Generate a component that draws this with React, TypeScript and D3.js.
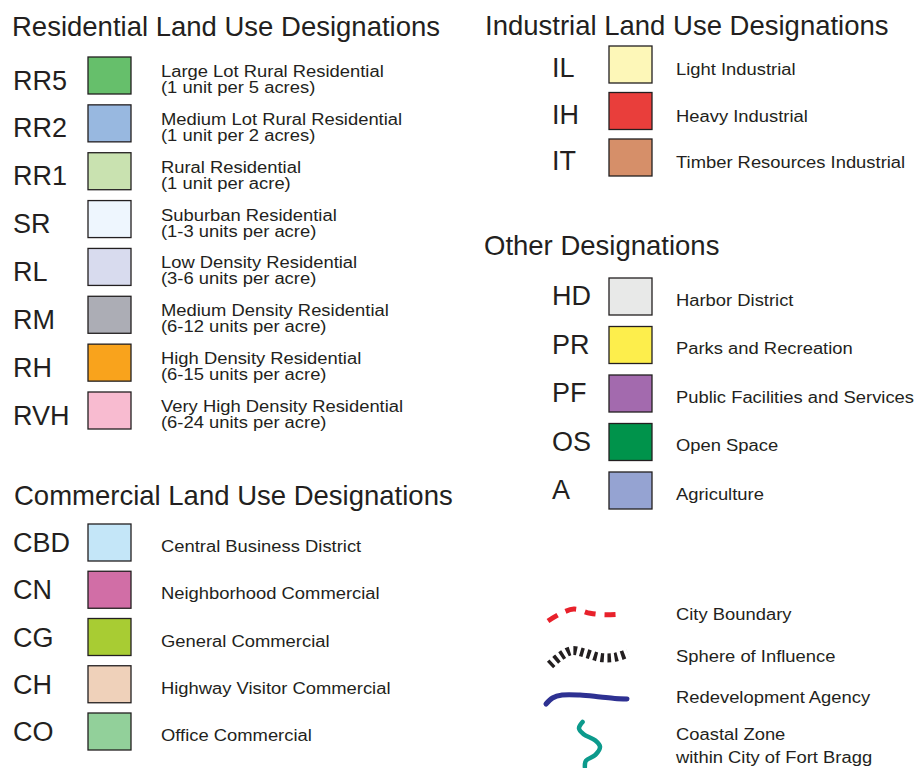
import React from "react";
import * as d3 from "d3";

// 주거 지역
const resCodes = ["RR5", "RR2", "RR1", "SR", "RL", "RM", "RH", "RVH"];
const resLabels = [
    "Large Lot Rural Residential",
    "Medium Lot Rural Residential",
    "Rural Residential",
    "Suburban Residential",
    "Low Density Residential",
    "Medium Density Residential",
    "High Density Residential",
    "Very High Density Residential",
];
const resNotes = [
    "(1 unit per 5 acres)",
    "(1 unit per 2 acres)",
    "(1 unit per acre)",
    "(1-3 units per acre)",
    "(3-6 units per acre)",
    "(6-12 units per acre)",
    "(6-15 units per acre)",
    "(6-24 units per acre)",
];
const resColors = ["#66bf6b", "#98b8e0", "#c9e2b0", "#eef6fe", "#d8dbee", "#acadb5", "#f9a31c", "#f8bbd0"];

// 상업 지역
const comCodes = ["CBD", "CN", "CG", "CH", "CO"];
const comLabels = [
    "Central Business District",
    "Neighborhood Commercial",
    "General Commercial",
    "Highway Visitor Commercial",
    "Office Commercial",
];
const comColors = ["#c4e6f8", "#d16ea6", "#a8cc33", "#efd1ba", "#92d09a"];

// 공업 지역
const indCodes = ["IL", "IH", "IT"];
const indLabels = ["Light Industrial", "Heavy Industrial", "Timber Resources Industrial"];
const indColors = ["#fdf7b8", "#e93e3b", "#d68f69"];

// 기타
const othCodes = ["HD", "PR", "PF", "OS", "A"];
const othLabels = [
    "Harbor District",
    "Parks and Recreation",
    "Public Facilities and Services",
    "Open Space",
    "Agriculture",
];
const othColors = ["#e8e9e8", "#fdee4c", "#a36aae", "#00934b", "#95a3d2"];

const titles = [
    "Residential Land Use Designations",
    "Commercial Land Use Designations",
    "Industrial Land Use Designations",
    "Other Designations",
];

// 선 기호
const lineLabels = [["City Boundary"], ["Sphere of Influence"], ["Redevelopment Agency"], ["Coastal Zone", "within City of Fort Bragg"]];
const lineShapes: [number, number][][] = [
    [[0, 1], [0.16, 0.5], [0.35, 0.15], [0.57, 0.45], [0.77, 0.55], [1, 0.5]],
    [[0, 1], [0.13, 0.5], [0.28, 0.15], [0.45, 0.3], [0.64, 0.55], [0.83, 0.55], [1, 0.3]],
    [[0, 1], [0.08, 0.4], [0.2, 0.1], [0.42, 0.1], [0.67, 0.3], [0.85, 0.45], [1, 0.5]],
    [[0.17, 0], [0, 0.14], [0.22, 0.27], [0.78, 0.41], [1, 0.55], [0.78, 0.73], [0.33, 0.86], [0.28, 1]],
];
const lineColors = ["#e8212b", "#231f20", "#2e3192", "#0c9a8c"];

const FONT = "'Liberation Sans', Arial, Helvetica, sans-serif";
const INK = "#231f20";
const SW = 43;
const SH = 37;
const LABEL_SIZE = 17.3;
const LABEL_SX = 1.063; // 원본 글꼴이 약간 넓음

const Label: React.FC<{ x: number; y: number; lines: string[]; gap: number }> = ({ x, y, lines, gap }) => (
    <text transform={`translate(${x},${y}) scale(${LABEL_SX},1)`} fontSize={LABEL_SIZE} fill={INK}>
        {lines.map((l, j) => (
            <tspan key={j} x={0} dy={j === 0 ? 0 : gap}>{l}</tspan>
        ))}
    </text>
);

interface SectionProps {
    title: string;
    titleX: number;
    titleY: number;
    codes: string[];
    labels: string[];
    notes?: string[];
    colors: string[];
    codeX: number;
    swatchX: number;
    labelX: number;
    rowRange: [number, number];
    codeDy: number;
    labelDy: number;
}

const Section: React.FC<SectionProps> = (p) => {
    const y = d3.scaleLinear().domain([0, p.codes.length - 1]).range(p.rowRange);
    return (
        <g>
            <text x={p.titleX} y={p.titleY} fontSize={27.5} fill={INK}>{p.title}</text>
            {p.codes.map((c, i) => (
                <g key={c}>
                    <text x={p.codeX} y={y(i) + p.codeDy} fontSize={27} fill={INK}>{c}</text>
                    <rect x={p.swatchX} y={y(i)} width={SW} height={SH} fill={p.colors[i]} stroke={INK} strokeWidth={1.3} />
                    {p.notes ? (
                        <Label x={p.labelX} y={y(i) + 20} lines={[p.labels[i], p.notes[i]]} gap={16} />
                    ) : (
                        <Label x={p.labelX} y={y(i) + p.labelDy} lines={[p.labels[i]]} gap={0} />
                    )}
                </g>
            ))}
        </g>
    );
};

const LineLegend: React.FC = () => {
    const boxes = [
        { x: [548, 622], y: [607, 621], w: 5, dash: "11 9", cap: "butt" },
        { x: [550, 628], y: [648, 665], w: 9, dash: "3.5 3.5", cap: "butt" },
        { x: [546, 627], y: [694, 704], w: 5, dash: "", cap: "round" },
        { x: [579, 600], y: [722, 767], w: 4.5, dash: "", cap: "round" },
    ];
    const rowY = d3.scaleLinear().domain([0, 2]).range([620, 703]);
    return (
        <g>
            {lineShapes.map((pts, i) => {
                const b = boxes[i];
                const sx = d3.scaleLinear().domain([0, 1]).range(b.x);
                const sy = d3.scaleLinear().domain([0, 1]).range(b.y);
                const path = d3
                    .line<[number, number]>()
                    .x((d) => sx(d[0]))
                    .y((d) => sy(d[1]))
                    .curve(d3.curveCatmullRom)(pts);
                return (
                    <path
                        key={i}
                        d={path || ""}
                        fill="none"
                        stroke={lineColors[i]}
                        strokeWidth={b.w}
                        strokeDasharray={b.dash || undefined}
                        strokeLinecap={b.cap as any}
                    />
                );
            })}
            {lineLabels.map((ls, i) => (
                <Label key={i} x={676} y={i < 3 ? rowY(i) : 740} lines={ls} gap={23} />
            ))}
        </g>
    );
};

export default function App() {
    return (
        <svg
            width={924}
            height={768}
            style={{ position: "absolute", left: 0, top: 0, background: "#fff" }}
            fontFamily={FONT}
        >
            <rect width={924} height={768} fill="#fff" />
            <Section
                title={titles[0]} titleX={12} titleY={36}
                codes={resCodes} labels={resLabels} notes={resNotes} colors={resColors}
                codeX={13} swatchX={88} labelX={161} rowRange={[57, 392]} codeDy={32.5} labelDy={0}
            />
            <Section
                title={titles[1]} titleX={14} titleY={505}
                codes={comCodes} labels={comLabels} colors={comColors}
                codeX={13} swatchX={88} labelX={161} rowRange={[524, 713]} codeDy={28} labelDy={28}
            />
            <Section
                title={titles[2]} titleX={485} titleY={35}
                codes={indCodes} labels={indLabels} colors={indColors}
                codeX={552} swatchX={609} labelX={676} rowRange={[46, 139]} codeDy={31} labelDy={29}
            />
            <Section
                title={titles[3]} titleX={484} titleY={255}
                codes={othCodes} labels={othLabels} colors={othColors}
                codeX={552} swatchX={609} labelX={676} rowRange={[278, 472]} codeDy={27} labelDy={27.5}
            />
            <LineLegend />
        </svg>
    );
}
